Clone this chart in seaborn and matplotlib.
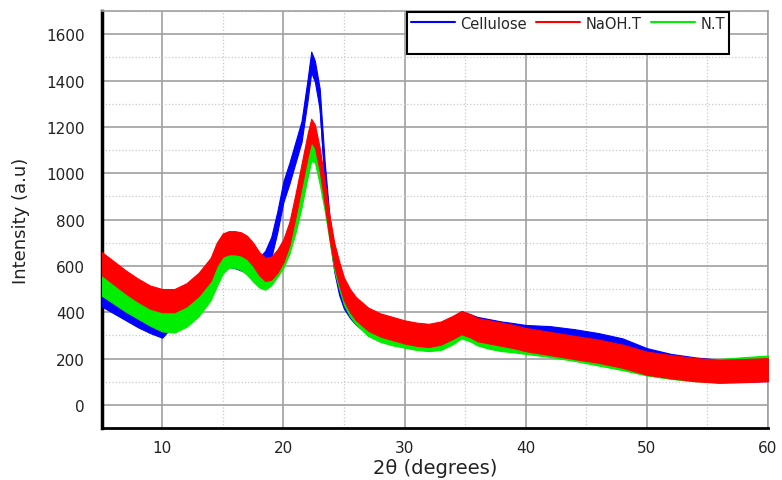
import numpy as np
import pandas as pd
import matplotlib
matplotlib.use("Agg")
import matplotlib.pyplot as plt
from matplotlib.lines import Line2D
from matplotlib.ticker import MultipleLocator, AutoMinorLocator
import seaborn as sns

two_theta = [5, 6, 7, 8, 9, 10, 11, 12, 13, 14,
             14.5, 15, 15.5, 16, 16.5, 17, 17.5, 18, 18.5, 19,
             19.5, 20, 20.5, 21, 21.5, 22, 22.3, 22.6, 23, 23.4,
             23.8, 24.2, 24.6, 25, 25.5, 26, 27, 28, 29, 30,
             31, 32, 33, 34, 34.7, 35.5, 36, 37, 38, 39,
             40, 42, 44, 46, 48, 50, 52, 54, 56, 58, 60]

cellulose = [470, 440, 410, 380, 355, 335, 395, 455, 500, 560,
             600, 630, 640, 635, 625, 615, 600, 590, 620, 680,
             790, 920, 1000, 1090, 1180, 1360, 1480, 1440, 1320, 1010,
             770, 620, 520, 460, 420, 390, 350, 325, 310, 300,
             300, 300, 310, 335, 360, 345, 335, 325, 315, 308,
             300, 295, 282, 265, 242, 200, 175, 160, 150, 145, 148]

naoh_t = [610, 570, 530, 495, 465, 450, 450, 475, 520, 585,
          650, 690, 700, 700, 695, 680, 650, 610, 585, 590,
          620, 665, 740, 860, 990, 1120, 1185, 1160, 1060, 920,
          770, 650, 570, 500, 450, 415, 370, 345, 330, 315,
          305, 300, 310, 335, 355, 340, 325, 315, 305, 295,
          282, 265, 248, 232, 210, 180, 165, 152, 145, 148, 152]

n_t = [520, 485, 450, 420, 390, 365, 360, 385, 430, 500,
       560, 615, 640, 640, 630, 610, 580, 555, 545, 565,
       600, 640, 700, 790, 900, 1030, 1100, 1095, 1000, 890,
       760, 630, 550, 480, 430, 395, 345, 320, 305, 295,
       285, 280, 285, 310, 335, 320, 305, 290, 280, 275,
       268, 255, 238, 218, 198, 175, 160, 150, 150, 158, 165]

# approximate half-height of the noise band of each pattern (a.u.)
noise = {"Cellulose": 45, "NaOH.T": 50, "N.T": 48}

series = {"Cellulose": cellulose, "NaOH.T": naoh_t, "N.T": n_t}
colors = {"Cellulose": "#0000ff", "NaOH.T": "#ff0000", "N.T": "#00ee00"}

# long table: lower and upper edge of the noisy band for each point
rows = []
for name, vals in series.items():
    for t, v in zip(two_theta, vals):
        rows.append((name, t, v - noise[name]))
        rows.append((name, t, v + noise[name]))
df = pd.DataFrame(rows, columns=["sample", "two_theta", "intensity"])

sns.set_style("white")
plt.rcParams["font.family"] = ["DejaVu Sans"]

fig, ax = plt.subplots(figsize=(7.82, 4.81), dpi=100)
fig.subplots_adjust(left=0.130, right=0.982, bottom=0.108, top=0.975)

# draw blue first, red last so red sits on top as in the original
for z, name in enumerate(["Cellulose", "N.T", "NaOH.T"]):
    sns.lineplot(data=df[df["sample"] == name], x="two_theta", y="intensity",
                 color=colors[name], estimator="mean", errorbar=("pi", 100),
                 err_kws={"alpha": 1, "linewidth": 0.8, "zorder": 3 + z},
                 linewidth=1.2, zorder=3.5 + z, legend=False, ax=ax)

ax.set_xlim(5, 60)
ax.set_ylim(-100, 1700)
ax.xaxis.set_major_locator(MultipleLocator(10))
ax.xaxis.set_minor_locator(AutoMinorLocator(2))
ax.yaxis.set_major_locator(MultipleLocator(200))
ax.yaxis.set_minor_locator(AutoMinorLocator(2))

ax.grid(True, which="major", color="#a0a0a0", linestyle="-", linewidth=1.2)
ax.grid(True, which="minor", color="#c8c8c8", linestyle=":", linewidth=0.9)
ax.set_axisbelow(True)

ax.tick_params(axis="both", which="major", direction="out", length=5,
               width=1.5, labelsize=11, colors="black")
ax.tick_params(axis="y", which="major", pad=7)
ax.tick_params(axis="both", which="minor", direction="out", length=3,
               width=1.2)
ax.tick_params(axis="both", labelcolor="#222222")

for side in ["left", "bottom"]:
    ax.spines[side].set_color("black")
ax.spines["left"].set_linewidth(2.5)
ax.spines["bottom"].set_linewidth(2)
for side in ["top", "right"]:
    ax.spines[side].set_color("#a0a0a0")
    ax.spines[side].set_linewidth(1.2)

ax.set_xlabel("2θ (degrees)", fontsize=14, color="#222222", labelpad=2)
ax.set_ylabel("Intensity (a.u)", fontsize=13, color="#222222", labelpad=12)

# one-row legend with an empty second row, like the original frame
blank = Line2D([], [], color="none")
handles = [Line2D([], [], color=colors["Cellulose"], lw=1.5), blank,
           Line2D([], [], color=colors["NaOH.T"], lw=1.5), blank,
           Line2D([], [], color=colors["N.T"], lw=1.5), blank]
labels = ["Cellulose", " ", "NaOH.T", " ", "N.T", " "]
leg = ax.legend(handles, labels, ncol=3, loc="upper left",
                bbox_to_anchor=(0.4585, 0.904, 0.4835, 0.094), mode="expand",
                fontsize=10.5, frameon=True, fancybox=False, framealpha=1,
                edgecolor="black", handlelength=3, handletextpad=0.4,
                columnspacing=0.2, borderpad=0.25, labelspacing=0.3,
                borderaxespad=0)
leg.get_frame().set_linewidth(1.5)
leg.set_zorder(10)

fig.savefig("out.png", dpi=100)
